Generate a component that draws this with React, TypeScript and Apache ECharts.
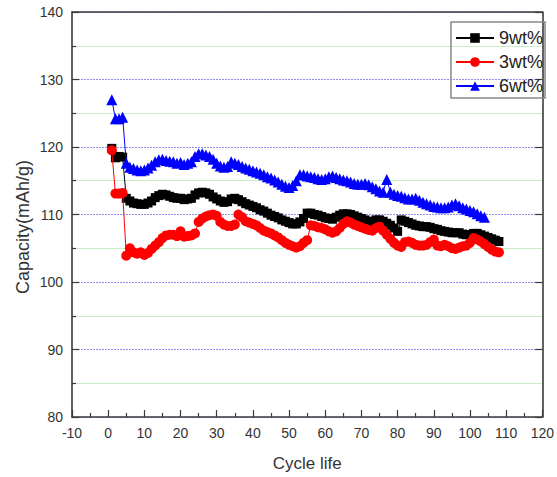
import React, { useEffect, useRef } from "react";
import * as echarts from "echarts";

const xTicks = [-10, 120, 10];
const yTicks = [80, 140, 10];

const cap9wt = [
  119.8, 118.4, 118.6, 118.5, 112.4, 112.0, 111.7, 111.6, 111.5, 111.5,
  111.7, 112.0, 112.5, 112.8, 113.0, 112.9, 112.7, 112.5, 112.4, 112.4,
  112.2, 112.3, 112.4, 112.9, 113.2, 113.3, 113.2, 113.0, 112.6, 112.3,
  112.0, 111.8, 111.9, 112.3, 112.4, 112.2, 111.9, 111.6, 111.4, 111.2,
  111.0, 110.7, 110.5, 110.2, 109.9, 109.7, 109.5, 109.2, 109.0, 108.8,
  108.6, 108.6, 108.9, 109.4, 110.2, 110.2, 110.0, 109.9, 109.7, 109.5,
  109.4, 109.3, 109.6, 109.9, 110.1, 110.1, 110.0, 109.8, 109.6, 109.4,
  109.2, 109.0, 108.9, 109.2, 109.2, 109.0, 108.7, 108.4, 108.0, 107.5,
  109.2, 109.0, 108.8, 108.6, 108.4, 108.3, 108.2, 108.2, 108.1, 107.9,
  107.8, 107.6, 107.5, 107.4, 107.3, 107.3, 107.3, 107.1, 107.0, 107.0,
  107.2, 107.2, 107.0, 106.8, 106.6, 106.4, 106.2, 106.0,
];

const cap3wt = [
  119.5, 113.1, 113.1, 113.2, 103.9, 105.0, 104.4, 104.2, 104.4, 104.0,
  104.3, 104.9, 105.4, 105.9, 106.5, 106.9, 107.0, 107.0, 106.8, 107.5,
  106.7, 106.8, 106.9, 107.2, 108.9, 109.4, 109.7, 109.9, 110.0, 109.8,
  108.9, 108.5, 108.3, 108.3, 108.5, 110.0, 109.6, 109.0, 108.8, 108.6,
  108.4, 108.0, 107.6, 107.4, 107.2, 106.9, 106.6, 106.2, 105.8, 105.5,
  105.3, 105.1, 105.3, 105.8, 106.2, 108.4, 108.3, 108.1, 108.0, 107.8,
  107.5, 107.3, 107.5, 108.0, 108.6, 109.0, 108.8, 108.5, 108.3, 108.1,
  107.9, 107.7, 107.6, 108.0, 108.2, 107.6, 107.0, 106.4, 105.8, 105.4,
  105.2, 105.9, 106.0, 105.8, 105.5, 105.4, 105.4, 105.5, 105.9, 106.3,
  105.4, 105.3, 105.5, 105.3, 105.0, 104.9, 105.1, 105.3, 105.4, 105.8,
  106.5, 106.3, 106.0, 105.6, 105.2, 104.8, 104.5, 104.4,
];

const cap6wt = [
  127.0, 124.2, 124.2, 124.4, 117.6, 117.0, 116.8, 116.6, 116.5, 116.6,
  116.9, 117.3, 117.8, 118.1, 118.2, 118.0, 117.9, 117.8, 117.6, 117.7,
  117.4, 117.6, 117.8, 118.6, 119.0, 119.0, 118.8, 118.6, 118.2, 117.6,
  117.2, 117.0, 117.1, 117.8, 117.6, 117.4, 117.1, 116.9, 116.7, 116.5,
  116.3, 116.1, 115.9, 115.6, 115.4, 115.1, 114.8, 114.5, 114.2, 114.0,
  114.3, 115.0, 115.9, 115.9, 115.7, 115.6, 115.5, 115.3, 115.2, 115.3,
  115.6, 115.7, 115.5, 115.3, 115.1, 115.0, 114.8, 114.6, 114.5, 114.5,
  114.6, 114.4, 114.1, 113.8, 113.5, 113.3, 115.2, 113.3, 113.0, 112.8,
  112.7, 112.5, 112.3, 112.3, 112.4, 112.1, 111.8, 111.6, 111.4, 111.2,
  111.1, 111.0, 111.0, 111.1, 111.4, 111.6, 111.3, 111.0, 110.8, 110.6,
  110.4, 110.1, 109.8, 109.6,
];

const seriesNames = ["9wt%", "3wt%", "6wt%"];
const seriesColors = ["#000000", "#ff0000", "#0000ff"];
const seriesSymbols = ["rect", "circle", "triangle"];
const seriesData = [cap9wt, cap3wt, cap6wt];
const symbolSizes = [9, 10, 11];

const FONT = "Liberation Sans, Arial, sans-serif";

export default function App() {
  const ref = useRef<HTMLDivElement>(null);
  useEffect(() => {
    if (!ref.current) return;
    const chart = echarts.init(ref.current, null, { renderer: "svg" });
    const axisLine = { show: true, onZero: false, lineStyle: { color: "#3a3a3a", width: 1.6 } };
    const tickStyle = { color: "#3a3a3a", width: 1.2 };
    chart.setOption({
      animation: false,
      backgroundColor: "#ffffff",
      textStyle: { fontFamily: FONT },
      grid: { left: 72, right: 6, top: 12, bottom: 59, show: false },
      graphic: [
        {
          type: "text",
          x: 23,
          y: 227,
          rotation: Math.PI / 2,
          style: {
            text: "Capacity(mAh/g)",
            fontSize: 18,
            fontFamily: FONT,
            fill: "#333",
            align: "center",
            verticalAlign: "middle",
          },
        },
      ],
      legend: {
        orient: "vertical",
        left: 451,
        top: 22,
        borderColor: "#888",
        borderWidth: 1.5,
        padding: [6, 2, 2, 4],
        itemGap: 4,
        itemWidth: 38,
        itemHeight: 12,
        textStyle: { fontSize: 18, lineHeight: 20, color: "#222", fontFamily: FONT },
        data: seriesNames,
      },
      xAxis: [
        {
          type: "value",
          min: xTicks[0],
          max: xTicks[1],
          interval: xTicks[2],
          name: "Cycle life",
          nameLocation: "middle",
          nameGap: 38,
          nameTextStyle: { fontSize: 17, color: "#333", fontFamily: FONT },
          axisLine,
          axisTick: { show: true, inside: true, length: 7, lineStyle: tickStyle },
          minorTick: { show: true, splitNumber: 2, length: 4, lineStyle: tickStyle },
          axisLabel: { fontSize: 14, color: "#333", margin: 9, fontFamily: FONT },
          splitLine: { show: false },
        },
        {
          type: "value",
          position: "top",
          min: xTicks[0],
          max: xTicks[1],
          interval: xTicks[2],
          axisLine,
          axisTick: { show: false },
          axisLabel: { show: false },
          splitLine: { show: false },
        },
      ],
      yAxis: [
        {
          type: "value",
          min: yTicks[0],
          max: yTicks[1],
          interval: yTicks[2],
          axisLine,
          axisTick: { show: true, inside: true, length: 7, lineStyle: tickStyle },
          minorTick: { show: true, splitNumber: 2, length: 4, lineStyle: tickStyle },
          axisLabel: { fontSize: 14, color: "#333", margin: 9, fontFamily: FONT },
          splitLine: { show: true, lineStyle: { color: "#8f8fee", type: [2, 1], width: 1 } },
          minorSplitLine: { show: true, lineStyle: { color: "#c6efc6", width: 1 } },
        },
        {
          type: "value",
          position: "right",
          min: yTicks[0],
          max: yTicks[1],
          interval: yTicks[2],
          axisLine,
          axisTick: { show: true, inside: true, length: 7, lineStyle: tickStyle },
          axisLabel: { show: false },
          splitLine: { show: false },
        },
      ],
      series: seriesData.map((arr, i) => ({
        name: seriesNames[i],
        type: "line",
        data: arr.map((v, k) => [k + 1, v]),
        symbol: seriesSymbols[i],
        symbolSize: symbolSizes[i],
        showAllSymbol: true,
        lineStyle: { color: seriesColors[i], width: 1 },
        itemStyle: { color: seriesColors[i] },
        z: 2 + i,
      })),
    });
    return () => chart.dispose();
  }, []);
  return (
    <div
      ref={ref}
      style={{ position: "fixed", left: 0, top: 0, width: 557, height: 477 }}
    />
  );
}
